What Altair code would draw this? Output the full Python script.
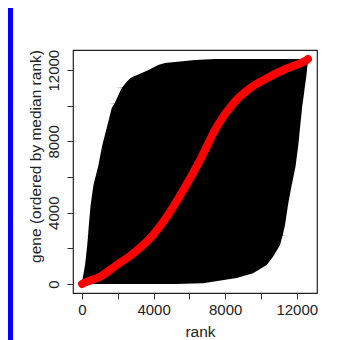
import altair as alt
import pandas as pd

# gene index (ordered by median rank) and min / max rank across samples
gene = [1, 40, 340, 600, 1070, 1530, 2190, 2700, 2705, 2710, 2950, 3310, 4430,
        4880, 5550, 6600, 7800, 8750, 9680, 9880, 10100, 10105, 10110, 10800,
        11010, 11015, 11020, 11350, 11550, 11630, 12000, 12290, 12400, 12570,
        12625]
min_rank = [1, 10, 40, 90, 168, 220, 290, 335, 250, 338, 352, 380, 480,
            542, 640, 900, 1134, 1380, 1610, 1660, 1800, 1450, 1810, 2123,
            2230, 1844, 2240, 2498, 2700, 2850, 3688, 4247, 4638, 6314,
            7432]
max_rank = [5200, 6761, 8644, 9555, 10321, 10673, 11064, 11200, 11450, 11210, 11260, 11343, 11511,
            11590, 11718, 11930, 12086, 12180, 12276, 12290, 12320, 12330, 12325, 12420,
            12440, 12445, 12448, 12490, 12517, 12530, 12570, 12600, 12610, 12625,
            12625]

# median rank curve
med_rank = [1, 73, 1006, 1939, 2867, 3800, 4733, 5661, 6594, 7527, 8455, 9388, 10321, 11249, 12182, 12555, 12625]
med_gene = [1, 39, 410, 1066, 1722, 2564, 3776, 5274, 6950, 8826, 10139, 10980, 11541, 12007, 12383, 12568, 12625]

ticks = [0, 2000, 4000, 6000, 8000, 10000, 12000]
dom = [-505, 13130]

band = pd.DataFrame({"gene": gene, "lo": min_rank, "hi": max_rank})
med = pd.DataFrame({"rank": med_rank, "gene": med_gene})

FONT = "Liberation Sans"
TXT = "#222222"

xs = alt.Scale(domain=dom, nice=False, zero=False)
ys = alt.Scale(domain=dom, nice=False, zero=False)

x_axis = alt.Axis(values=ticks, format="d",
                  labelExpr="datum.value % 4000 == 0 ? datum.label : ''",
                  title="rank", grid=False, domain=False, tickSize=6,
                  tickColor="#333333", labelFont=FONT, labelFontSize=15,
                  labelColor=TXT, labelPadding=3, labelFlush=False,
                  labelOverlap=False, titleFont=FONT, titleFontSize=15.5,
                  titleFontWeight="normal", titleColor=TXT, titleX=127,
                  titleY=38, titleBaseline="middle", titleAlign="center")
y_axis = alt.Axis(values=ticks, format="d",
                  labelExpr="datum.value % 4000 == 0 ? datum.label : ''",
                  title="gene (ordered by median rank)", grid=False,
                  domain=False, tickSize=6, tickColor="#333333",
                  labelFont=FONT, labelFontSize=15, labelColor=TXT,
                  labelAngle=270, labelAlign="center", labelBaseline="middle",
                  labelPadding=14, labelFlush=False, labelOverlap=False,
                  titleFont=FONT, titleFontSize=15.5, titleFontWeight="normal",
                  titleColor=TXT, titleAngle=270, titleX=-38, titleY=106,
                  titleAlign="center", titleBaseline="middle")

strip = alt.Chart(pd.DataFrame({"k": [0]})).mark_rect(color="#0000FE").encode(
    x=alt.value(-65), x2=alt.value(-60), y=alt.value(-42), y2=alt.value(300)
)

area = alt.Chart(band).mark_area(orient="horizontal", color="black",
                                 interpolate="linear", opacity=1).encode(
    y=alt.Y("gene:Q", scale=ys, axis=y_axis),
    x=alt.X("lo:Q", scale=xs, axis=x_axis),
    x2=alt.X2("hi:Q"),
)

line = alt.Chart(med).mark_line(color="#FF0000", strokeWidth=8,
                                strokeCap="round", strokeJoin="round",
                                interpolate="monotone").encode(
    x=alt.X("rank:Q", scale=xs),
    y=alt.Y("gene:Q", scale=ys),
    order="gene:Q",
)

chart = alt.layer(strip, area, line).properties(
    width=244, height=243,
    autosize=alt.AutoSizeParams(type="none"),
    padding={"left": 65, "top": 42, "right": 21, "bottom": 47},
    background="white",
).configure_view(stroke="#222222", strokeWidth=1.2)

chart.save("out.html", embed_options={"renderer": "svg", "actions": False})
